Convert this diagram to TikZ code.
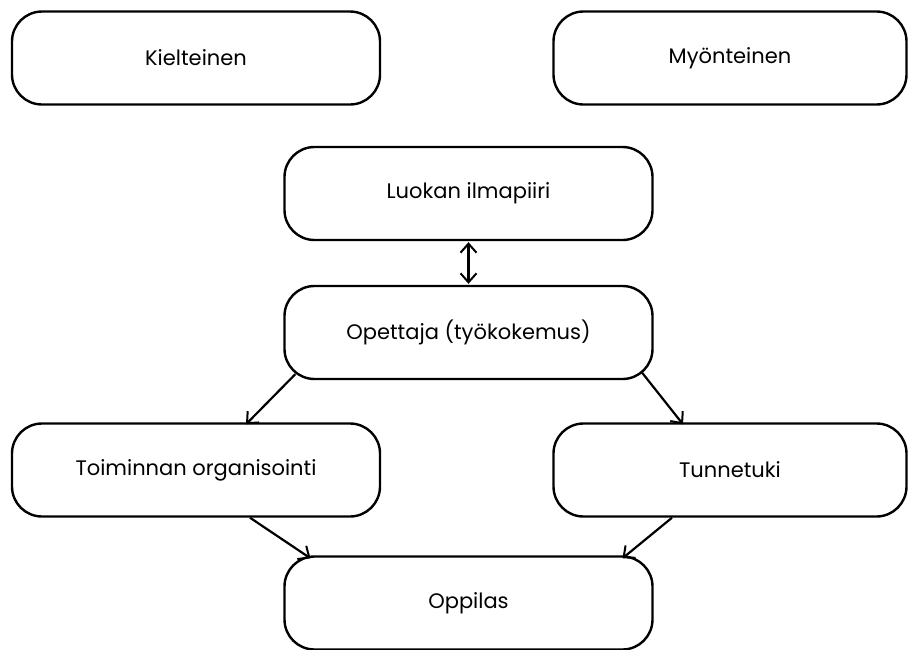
\documentclass[tikz,border=0pt]{standalone}
\usepackage{fontspec}
\setmainfont{Poppins}
\usetikzlibrary{arrows.meta}

\begin{document}
\begin{tikzpicture}[x=1pt,y=-1pt,
  box/.style={draw, line width=2.4pt, rounded corners=30pt, inner sep=0pt,
    font=\fontsize{21}{25}\selectfont},
  wide/.style={minimum width=368pt, minimum height=93pt},
  narrow/.style={minimum width=353pt, minimum height=93pt},
  barb/.tip={Straight Barb[length=9pt,width=16pt,line width=2pt]},
  link/.style={line width=2.2pt, -barb},
  both/.style={line width=2.2pt, barb-barb}]
\useasboundingbox[fill=white] (0,0) rectangle (911,649);
\node[box,wide]   (kiel)    at (196,58)  {Kielteinen};
\node[box,narrow] (myon)    at (730,58)  {Myönteinen};
\node[box,wide]   (ilma)    at (468.5,193.5) {Luokan ilmapiiri};
\node[box,wide]   (ope)     at (468.5,332.5) {Opettaja (työkokemus)};
\node[box,wide]   (toim)    at (196,470)   {Toiminnan organisointi};
\node[box,narrow] (tunne)   at (730,470)   {Tunnetuki};
\node[box,wide]   (oppilas) at (468.5,603) {Oppilas};
\draw[both] ([yshift=-1pt]ilma.south) -- ([yshift=1pt]ope.north);
\draw[link] ([xshift=12pt,yshift=6pt]ope.south west) -- ([xshift=50pt,yshift=-2pt]toim.north);
\draw[link] ([xshift=-12pt,yshift=8pt]ope.south east) -- ([xshift=-47pt,yshift=-2pt]tunne.north);
\draw[link] ([xshift=54pt]toim.south) -- ([xshift=-158pt,yshift=-3pt]oppilas.north);
\draw[link] ([xshift=-58pt]tunne.south) -- ([xshift=154pt,yshift=-3pt]oppilas.north);
\end{tikzpicture}
\end{document}
